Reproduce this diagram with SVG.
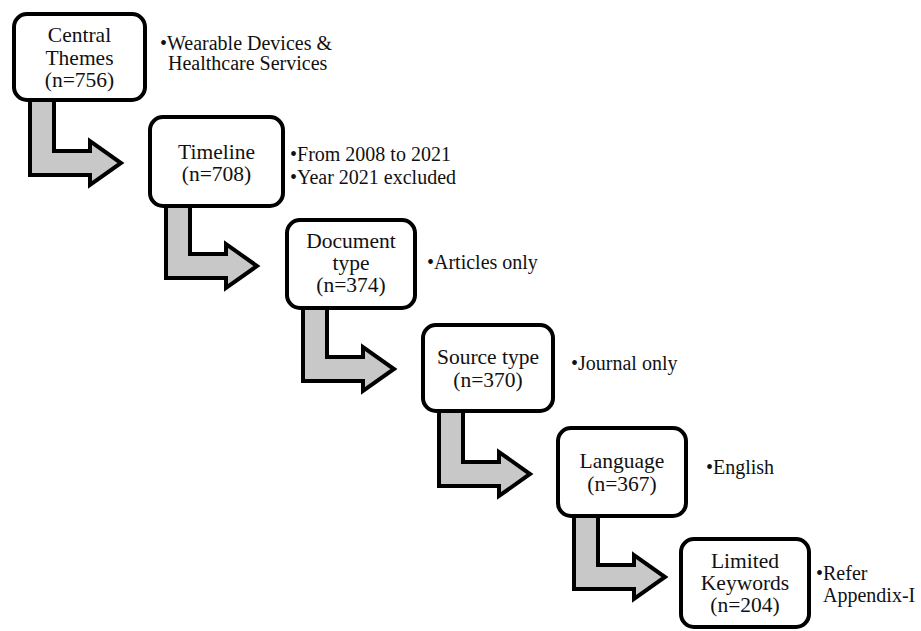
<svg xmlns="http://www.w3.org/2000/svg" width="921" height="631" viewBox="0 0 921 631">
<style>
.box{fill:#fff;stroke:#000;stroke-width:4}
.arr{fill:#c8c8c8;stroke:#000;stroke-width:4;stroke-linejoin:miter}
.t{font-family:"Liberation Serif","Times New Roman",serif;font-size:21.5px;fill:#111;text-anchor:middle}
.s{font-family:"Liberation Serif","Times New Roman",serif;font-size:20px;fill:#111}
</style>
<rect width="921" height="631" fill="#fff"/>
<g id="connectors">
<path class="arr" d="M30,100 L30,175 L90,175 L90,185 L121,163 L90,141 L90,151 L54,151 L54,100 Z"/>
<path class="arr" d="M166,203 L166,278 L226,278 L226,288 L257,266 L226,244 L226,254 L190,254 L190,203 Z"/>
<path class="arr" d="M303,306 L303,381 L363,381 L363,391 L394,369 L363,347 L363,357 L327,357 L327,306 Z"/>
<path class="arr" d="M439,409 L439,486 L499,486 L499,496 L530,474 L499,452 L499,462 L463,462 L463,409 Z"/>
<path class="arr" d="M574,514 L574,589 L634,589 L634,599 L665,577 L634,555 L634,565 L598,565 L598,514 Z"/>
</g>
<g id="n1">
<rect class="box" x="14" y="14" width="131" height="86" rx="13"/>
<text class="t" x="79.5" y="42">Central</text>
<text class="t" x="79.5" y="65">Themes</text>
<text class="t" x="79.5" y="87">(n=756)</text>
<text class="s" x="160" y="50">•Wearable Devices &amp;</text>
<text class="s" x="168" y="70">Healthcare Services</text>
</g>
<g id="n2">
<rect class="box" x="150" y="117" width="133" height="89" rx="13"/>
<text class="t" x="216.5" y="159">Timeline</text>
<text class="t" x="216.5" y="181">(n=708)</text>
<text class="s" x="290" y="161">•From 2008 to 2021</text>
<text class="s" x="290" y="184">•Year 2021 excluded</text>
</g>
<g id="n3">
<rect class="box" x="287" y="220" width="128" height="88" rx="13"/>
<text class="t" x="351" y="248">Document</text>
<text class="t" x="351" y="270">type</text>
<text class="t" x="351" y="292">(n=374)</text>
<text class="s" x="427" y="269">•Articles only</text>
</g>
<g id="n4">
<rect class="box" x="423" y="325" width="130" height="86" rx="13"/>
<text class="t" x="488" y="364">Source type</text>
<text class="t" x="488" y="387">(n=370)</text>
<text class="s" x="571" y="370">•Journal only</text>
</g>
<g id="n5">
<rect class="box" x="558" y="428" width="128" height="88" rx="13"/>
<text class="t" x="622" y="468">Language</text>
<text class="t" x="622" y="491">(n=367)</text>
<text class="s" x="706" y="474">•English</text>
</g>
<g id="n6">
<rect class="box" x="681" y="539" width="128" height="88" rx="13"/>
<text class="t" x="745" y="568">Limited</text>
<text class="t" x="745" y="590">Keywords</text>
<text class="t" x="745" y="612">(n=204)</text>
<text class="s" x="816" y="580">•Refer</text>
<text class="s" x="823" y="602">Appendix-I</text>
</g>
</svg>
